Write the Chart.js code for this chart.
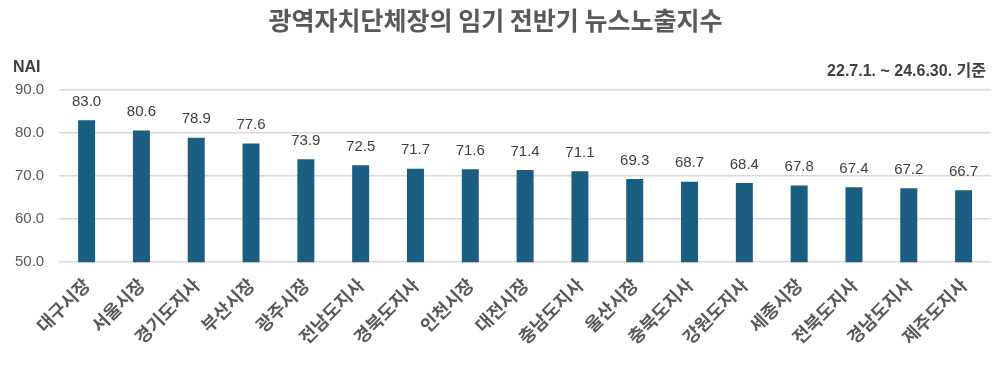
<!DOCTYPE html>
<html>
<head>
<meta charset="utf-8">
<script src="https://cdn.jsdelivr.net/npm/chart.js@4"></script>
<style>
  html, body { margin: 0; padding: 0; background: #fff; }
  #wrap { width: 1002px; height: 370px; }
</style>
</head>
<body>
<div id="wrap"><canvas id="nai-chart" width="1002" height="370"></canvas></div>
<script>
// ===== Data =====
const regions = ['대구시장', '서울시장', '경기도지사', '부산시장', '광주시장', '전남도지사', '경북도지사', '인천시장',
    '대전시장', '충남도지사', '울산시장', '충북도지사', '강원도지사', '세종시장', '전북도지사', '경남도지사', '제주도지사'];
const naiValues = [83.0, 80.6, 78.9, 77.6, 73.9, 72.5, 71.7, 71.6, 71.4, 71.1, 69.3, 68.7, 68.4, 67.8, 67.4, 67.2, 66.7];
const chartTitle = '광역자치단체장의 임기 전반기 뉴스노출지수';
const axisLabel = 'NAI';
const periodNote = '22.7.1. ~ 24.6.30. 기준';

const FONT = "'Liberation Sans', 'Noto Sans CJK KR', sans-serif";
const KFONT = "'Noto Sans CJK KR', sans-serif";

// ===== Plugins =====
const extraText = {
    id: 'extraText',
    afterDraw(chart) {
        const ctx = chart.ctx;
        ctx.save();
        ctx.fillStyle = '#404040';
        ctx.font = "bold 16px " + FONT;
        ctx.textBaseline = 'middle';
        ctx.textAlign = 'left';
        ctx.fillText(axisLabel, 13, 68);
        ctx.textAlign = 'right';
        ctx.fillText(periodNote, 986, 72);
        ctx.restore();
    }
};

const valueLabels = {
    id: 'valueLabels',
    afterDatasetsDraw(chart) {
        const ctx = chart.ctx;
        const meta = chart.getDatasetMeta(0);
        ctx.save();
        ctx.fillStyle = '#404040';
        ctx.font = "15px " + FONT;
        ctx.textAlign = 'center';
        ctx.textBaseline = 'bottom';
        meta.data.forEach((bar, i) => {
            ctx.fillText(naiValues[i].toFixed(1), bar.x, bar.y - 11);
        });
        ctx.restore();
    }
};

// ===== Chart =====
const chart = new Chart(document.querySelector('#nai-chart'), {
    type: 'bar',
    data: {
        labels: regions,
        datasets: [{
            label: axisLabel,
            data: naiValues,
            backgroundColor: '#1A5E82',
            barPercentage: 0.31,
            categoryPercentage: 1.0
        }]
    },
    options: {
        responsive: false,
        animation: false,
        layout: { padding: { left: 0, right: 11, top: 0, bottom: 18 } },
        plugins: {
            legend: { display: false },
            tooltip: { enabled: false },
            title: {
                display: true,
                text: chartTitle,
                color: '#595959',
                font: { family: KFONT, size: 25, weight: 'bold' },
                padding: { top: 5, bottom: 55 }
            }
        },
        scales: {
            x: {
                grid: { display: false },
                border: { display: false },
                ticks: {
                    color: '#595959',
                    font: { family: KFONT, size: 18, weight: 'bold' },
                    maxRotation: 45,
                    minRotation: 45,
                    padding: 4
                }
            },
            y: {
                min: 50,
                max: 90,
                border: { display: false },
                grid: { color: '#D9D9D9', lineWidth: 1.5, drawTicks: false },
                ticks: {
                    stepSize: 10,
                    color: '#595959',
                    font: { family: FONT, size: 15 },
                    padding: 15,
                    callback: v => v.toFixed(1)
                }
            }
        }
    },
    plugins: [valueLabels, extraText]
});
</script>
</body>
</html>
